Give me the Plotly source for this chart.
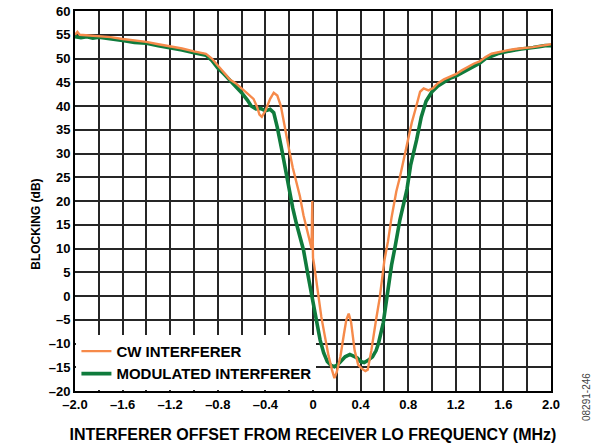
import plotly.graph_objects as go

# ---- data ----
cw_x = [-2.00, -1.98, -1.96, -1.90, -1.80, -1.70, -1.60, -1.50, -1.40, -1.30,
        -1.20, -1.10, -1.00, -0.95, -0.90, -0.85, -0.80, -0.75, -0.70, -0.65,
        -0.60, -0.55, -0.50, -0.47, -0.45, -0.43, -0.40, -0.36, -0.33, -0.30,
        -0.27, -0.25, -0.22, -0.20, -0.17, -0.15, -0.11, -0.08, -0.05, -0.02,
        -0.012, -0.006, 0.000, 0.01, 0.03, 0.05, 0.07, 0.10, 0.13, 0.16,
        0.18, 0.20, 0.23, 0.26, 0.28, 0.30, 0.32, 0.35, 0.38, 0.41,
        0.44, 0.46, 0.49, 0.53, 0.56, 0.60, 0.63, 0.66, 0.70, 0.73,
        0.77, 0.80, 0.83, 0.86, 0.90, 0.93, 0.97, 1.01, 1.05, 1.10,
        1.15, 1.20, 1.25, 1.30, 1.35, 1.40, 1.45, 1.50, 1.55, 1.60,
        1.65, 1.70, 1.75, 1.80, 1.85, 1.90, 1.95, 2.00]
cw_y = [55.0, 55.6, 55.0, 54.9, 54.8, 54.5, 54.1, 53.8, 53.5, 53.0,
        52.6, 52.1, 51.5, 51.3, 51.0, 50.0, 48.6, 47.0, 45.6, 44.8,
        43.8, 42.6, 41.5, 39.8, 38.2, 37.7, 39.0, 41.5, 42.8, 42.2,
        40.0, 37.2, 33.0, 30.7, 27.0, 25.1, 21.0, 17.0, 14.0, 10.5,
        10.0, 20.0, 8.0, 6.5, 2.7, -0.8, -4.4, -8.5, -12.5, -15.6,
        -17.3, -16.0, -12.8, -8.0, -5.0, -3.7, -5.5, -11.5, -14.5, -15.3,
        -15.8, -15.5, -11.5, -5.0, -0.5, 7.5, 11.5, 16.5, 22.0, 25.0,
        29.5, 33.5, 36.5, 39.2, 43.0, 43.7, 43.3, 43.8, 44.8, 45.6,
        46.2, 46.7, 47.5, 48.2, 48.9, 49.4, 50.3, 51.0, 51.3, 51.6,
        51.8, 52.0, 52.1, 52.3, 52.4, 52.6, 52.8, 53.0]

mod_x = [-2.00, -1.95, -1.90, -1.85, -1.80, -1.70, -1.60, -1.50, -1.40, -1.30,
         -1.20, -1.10, -1.00, -0.95, -0.90, -0.85, -0.80, -0.75, -0.70, -0.65,
         -0.60, -0.55, -0.52, -0.48, -0.44, -0.40, -0.36, -0.33, -0.30, -0.26,
         -0.22, -0.20, -0.17, -0.14, -0.11, -0.08, -0.04, -0.01, 0.02, 0.06,
         0.09, 0.12, 0.15, 0.18, 0.21, 0.24, 0.27, 0.31, 0.34, 0.37,
         0.40, 0.43, 0.46, 0.50, 0.53, 0.55, 0.59, 0.63, 0.66, 0.69,
         0.73, 0.79, 0.82, 0.87, 0.91, 0.95, 1.00, 1.05, 1.10, 1.15,
         1.20, 1.25, 1.30, 1.35, 1.40, 1.45, 1.50, 1.55, 1.60, 1.65,
         1.70, 1.75, 1.80, 1.85, 1.90, 1.95, 2.00]
mod_y = [54.6, 54.4, 54.6, 54.3, 54.5, 54.2, 53.8, 53.4, 53.2, 52.7,
         52.3, 51.8, 51.2, 51.0, 50.7, 49.6, 48.0, 46.8, 45.5, 44.2,
         42.8, 41.2, 40.0, 39.4, 39.5, 39.0, 39.3, 38.6, 35.5, 30.5,
         25.0, 22.3, 18.5, 15.3, 12.5, 9.7, 4.1, -0.1, -4.4, -9.3,
         -12.0, -13.8, -14.6, -14.9, -14.4, -13.6, -12.8, -12.3, -12.6, -13.0,
         -13.8, -14.0, -13.6, -12.8, -11.5, -10.0, -5.7, 1.3, 6.5, 10.4,
         16.0, 22.5, 27.5, 32.8, 37.7, 41.0, 43.0, 44.2, 45.0, 45.8,
         46.3, 47.0, 47.8, 48.5, 49.0, 50.0, 50.6, 51.0, 51.3, 51.6,
         51.8, 52.0, 52.1, 52.3, 52.5, 52.7, 52.7]

series_names = ["CW INTERFERER", "MODULATED INTERFERER"]

x_tickvals = [-2.0, -1.6, -1.2, -0.8, -0.4, 0, 0.4, 0.8, 1.2, 1.6, 2.0]
x_ticktext = ["–2.0", "–1.6", "–1.2", "–0.8", "–0.4", "0", "0.4", "0.8", "1.2", "1.6", "2.0"]
y_tickvals = [60, 55, 50, 45, 40, 35, 30, 25, 20, 15, 10, 5, 0, -5, -10, -15, -20]
y_ticktext = ["60", "55", "50", "45", "40", "35", "30", "25", "20", "15", "10", "5", "0",
              "–5", "–10", "–15", "–20"]

ORANGE = "#F68A4A"
GREEN = "#0F7B3C"
FONT = "Liberation Sans, Arial, sans-serif"

fig = go.Figure()
fig.add_trace(go.Scatter(x=mod_x, y=mod_y, mode="lines", name=series_names[1],
                         line=dict(color=GREEN, width=3.6), legendrank=2))
fig.add_trace(go.Scatter(x=cw_x, y=cw_y, mode="lines", name=series_names[0],
                         line=dict(color=ORANGE, width=2.4), legendrank=1))

axis_common = dict(showline=True, linecolor="black", linewidth=2, mirror=True,
                   showgrid=True, gridcolor="#262626", gridwidth=1.5,
                   zeroline=False, ticks="",
                   tickfont=dict(family=FONT, size=13, color="black", weight="bold"))

fig.update_xaxes(range=[-2, 2], tickvals=x_tickvals, ticktext=x_ticktext,
                 minor=dict(dtick=0.2, tick0=0, showgrid=True, gridcolor="#262626", gridwidth=1.5),
                 title=dict(text="INTERFERER OFFSET FROM RECEIVER LO FREQUENCY (MHz)",
                            font=dict(family=FONT, size=16, color="black", weight="bold"),
                            standoff=18),
                 **axis_common)
fig.update_yaxes(range=[-20, 60], tickvals=y_tickvals, ticktext=y_ticktext,
                 **axis_common)

fig.update_layout(
    width=598, height=448,
    margin=dict(l=75, r=47, t=11, b=57, autoexpand=False),
    plot_bgcolor="white", paper_bgcolor="white",
    showlegend=True,
    legend=dict(x=0.003, y=0.003, xanchor="left", yanchor="bottom",
                bgcolor="white", borderwidth=0,
                font=dict(family=FONT, size=15, color="black", weight="bold"),
                tracegroupgap=0, itemwidth=30),
    annotations=[
        dict(text="BLOCKING (dB)", xref="paper", yref="paper",
             x=-0.082, y=0.44, xanchor="center", yanchor="middle",
             textangle=-90, showarrow=False,
             font=dict(family=FONT, size=12, color="black", weight="bold")),
        dict(text="08291-246", xref="paper", yref="paper",
             x=1.075, y=-0.085, xanchor="center", yanchor="bottom",
             textangle=-90, showarrow=False,
             font=dict(family=FONT, size=10, color="#444")),
    ],
)

fig.write_html("out.html", config={"displayModeBar": False},
               post_script="document.body.style.margin='0';")
